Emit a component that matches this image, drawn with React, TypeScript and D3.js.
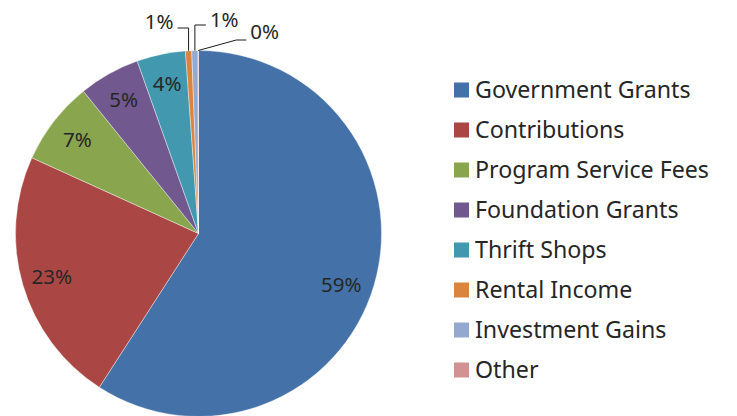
import React from 'react';
import * as d3 from 'd3';

// revenue sources, share of total (%)
const categories = [
  'Government Grants',
  'Contributions',
  'Program Service Fees',
  'Foundation Grants',
  'Thrift Shops',
  'Rental Income',
  'Investment Gains',
  'Other'
];
const shares = [59.2, 22.7, 7.4, 5.4, 4.3, 0.55, 0.55, 0.04];
const colors = ['#4472A8', '#AA4643', '#89A54E', '#71588F', '#4198AF', '#DB843D', '#93A9CF', '#D19392'];

const width = 737;
const height = 416;
const cx = 198.5;
const cy = 233.5;
const radius = 183;

// elbow leader lines for the slivers at the top: [elbow dx, elbow y, end dx, text dx, text dy]
const outside: { [k: number]: number[] } = {
  5: [0, 28, -11, -4, -6],
  6: [0, 25, 11, 4, -5],
  7: [38, 40, 48, 4, -8]
};

export default function App() {
  const total = d3.sum(shares);
  const pie = d3.pie<number>().sort(null).value((d) => d);
  const arcs = pie(shares);
  const arc = d3.arc<d3.PieArcDatum<number>>().innerRadius(0).outerRadius(radius);
  const labelArc = d3.arc<d3.PieArcDatum<number>>().innerRadius(153).outerRadius(153);
  const pct = (v: number) => Math.round((v / total) * 100) + '%';

  const legendY = d3.scalePoint<string>().domain(categories).range([90, 370]);

  return (
    <svg width={width} height={height} style={{ position: 'absolute', left: 0, top: 0, background: '#fff' }}>
      <g transform={`translate(${cx},${cy})`}>
        {arcs.map((a, i) => (
          <path key={i} d={arc(a) || ''} fill={colors[i]} stroke="#fff" strokeWidth={0.4} />
        ))}
        {arcs.map((a, i) => {
          if (outside[i]) return null;
          const [x, y] = labelArc.centroid(a);
          // best-fit nudge for the big slice, as the spreadsheet does
          const nx = i === 0 ? -4 : 0;
          const ny = i === 0 ? 8 : 0;
          return (
            <text key={'l' + i} x={x + nx} y={y + ny} dy="0.35em" textAnchor="middle"
              fontFamily="'Noto Sans', sans-serif" fontSize={20.5} fill="#262626">
              {pct(shares[i])}
            </text>
          );
        })}
        {arcs.map((a, i) => {
          const o = outside[i];
          if (!o) return null;
          const mid = (a.startAngle + a.endAngle) / 2;
          const sx = Math.sin(mid) * radius;
          const sy = -Math.cos(mid) * radius;
          const ey = o[1] - cy;
          const ex = sx + o[0];
          const tx = sx + o[2];
          const anchor = o[2] < 0 ? 'end' : 'start';
          return (
            <g key={'o' + i}>
              <polyline points={`${sx},${sy} ${ex},${ey} ${tx},${ey}`} fill="none" stroke="#1a1a1a" strokeWidth={1} />
              <text x={tx + o[3]} y={ey + o[4]} dy="0.35em" textAnchor={anchor}
                fontFamily="'Noto Sans', sans-serif" fontSize={20.5} fill="#262626">
                {pct(shares[i])}
              </text>
            </g>
          );
        })}
      </g>
      <g>
        {categories.map((c, i) => (
          <g key={c} transform={`translate(454,${legendY(c)})`}>
            <rect x={0} y={-7.5} width={15} height={15} fill={colors[i]} />
            <text x={21} y={0} dy="0.36em" fontFamily="'Noto Sans', sans-serif" fontSize={23.2} fill="#262626">
              {c}
            </text>
          </g>
        ))}
      </g>
    </svg>
  );
}
